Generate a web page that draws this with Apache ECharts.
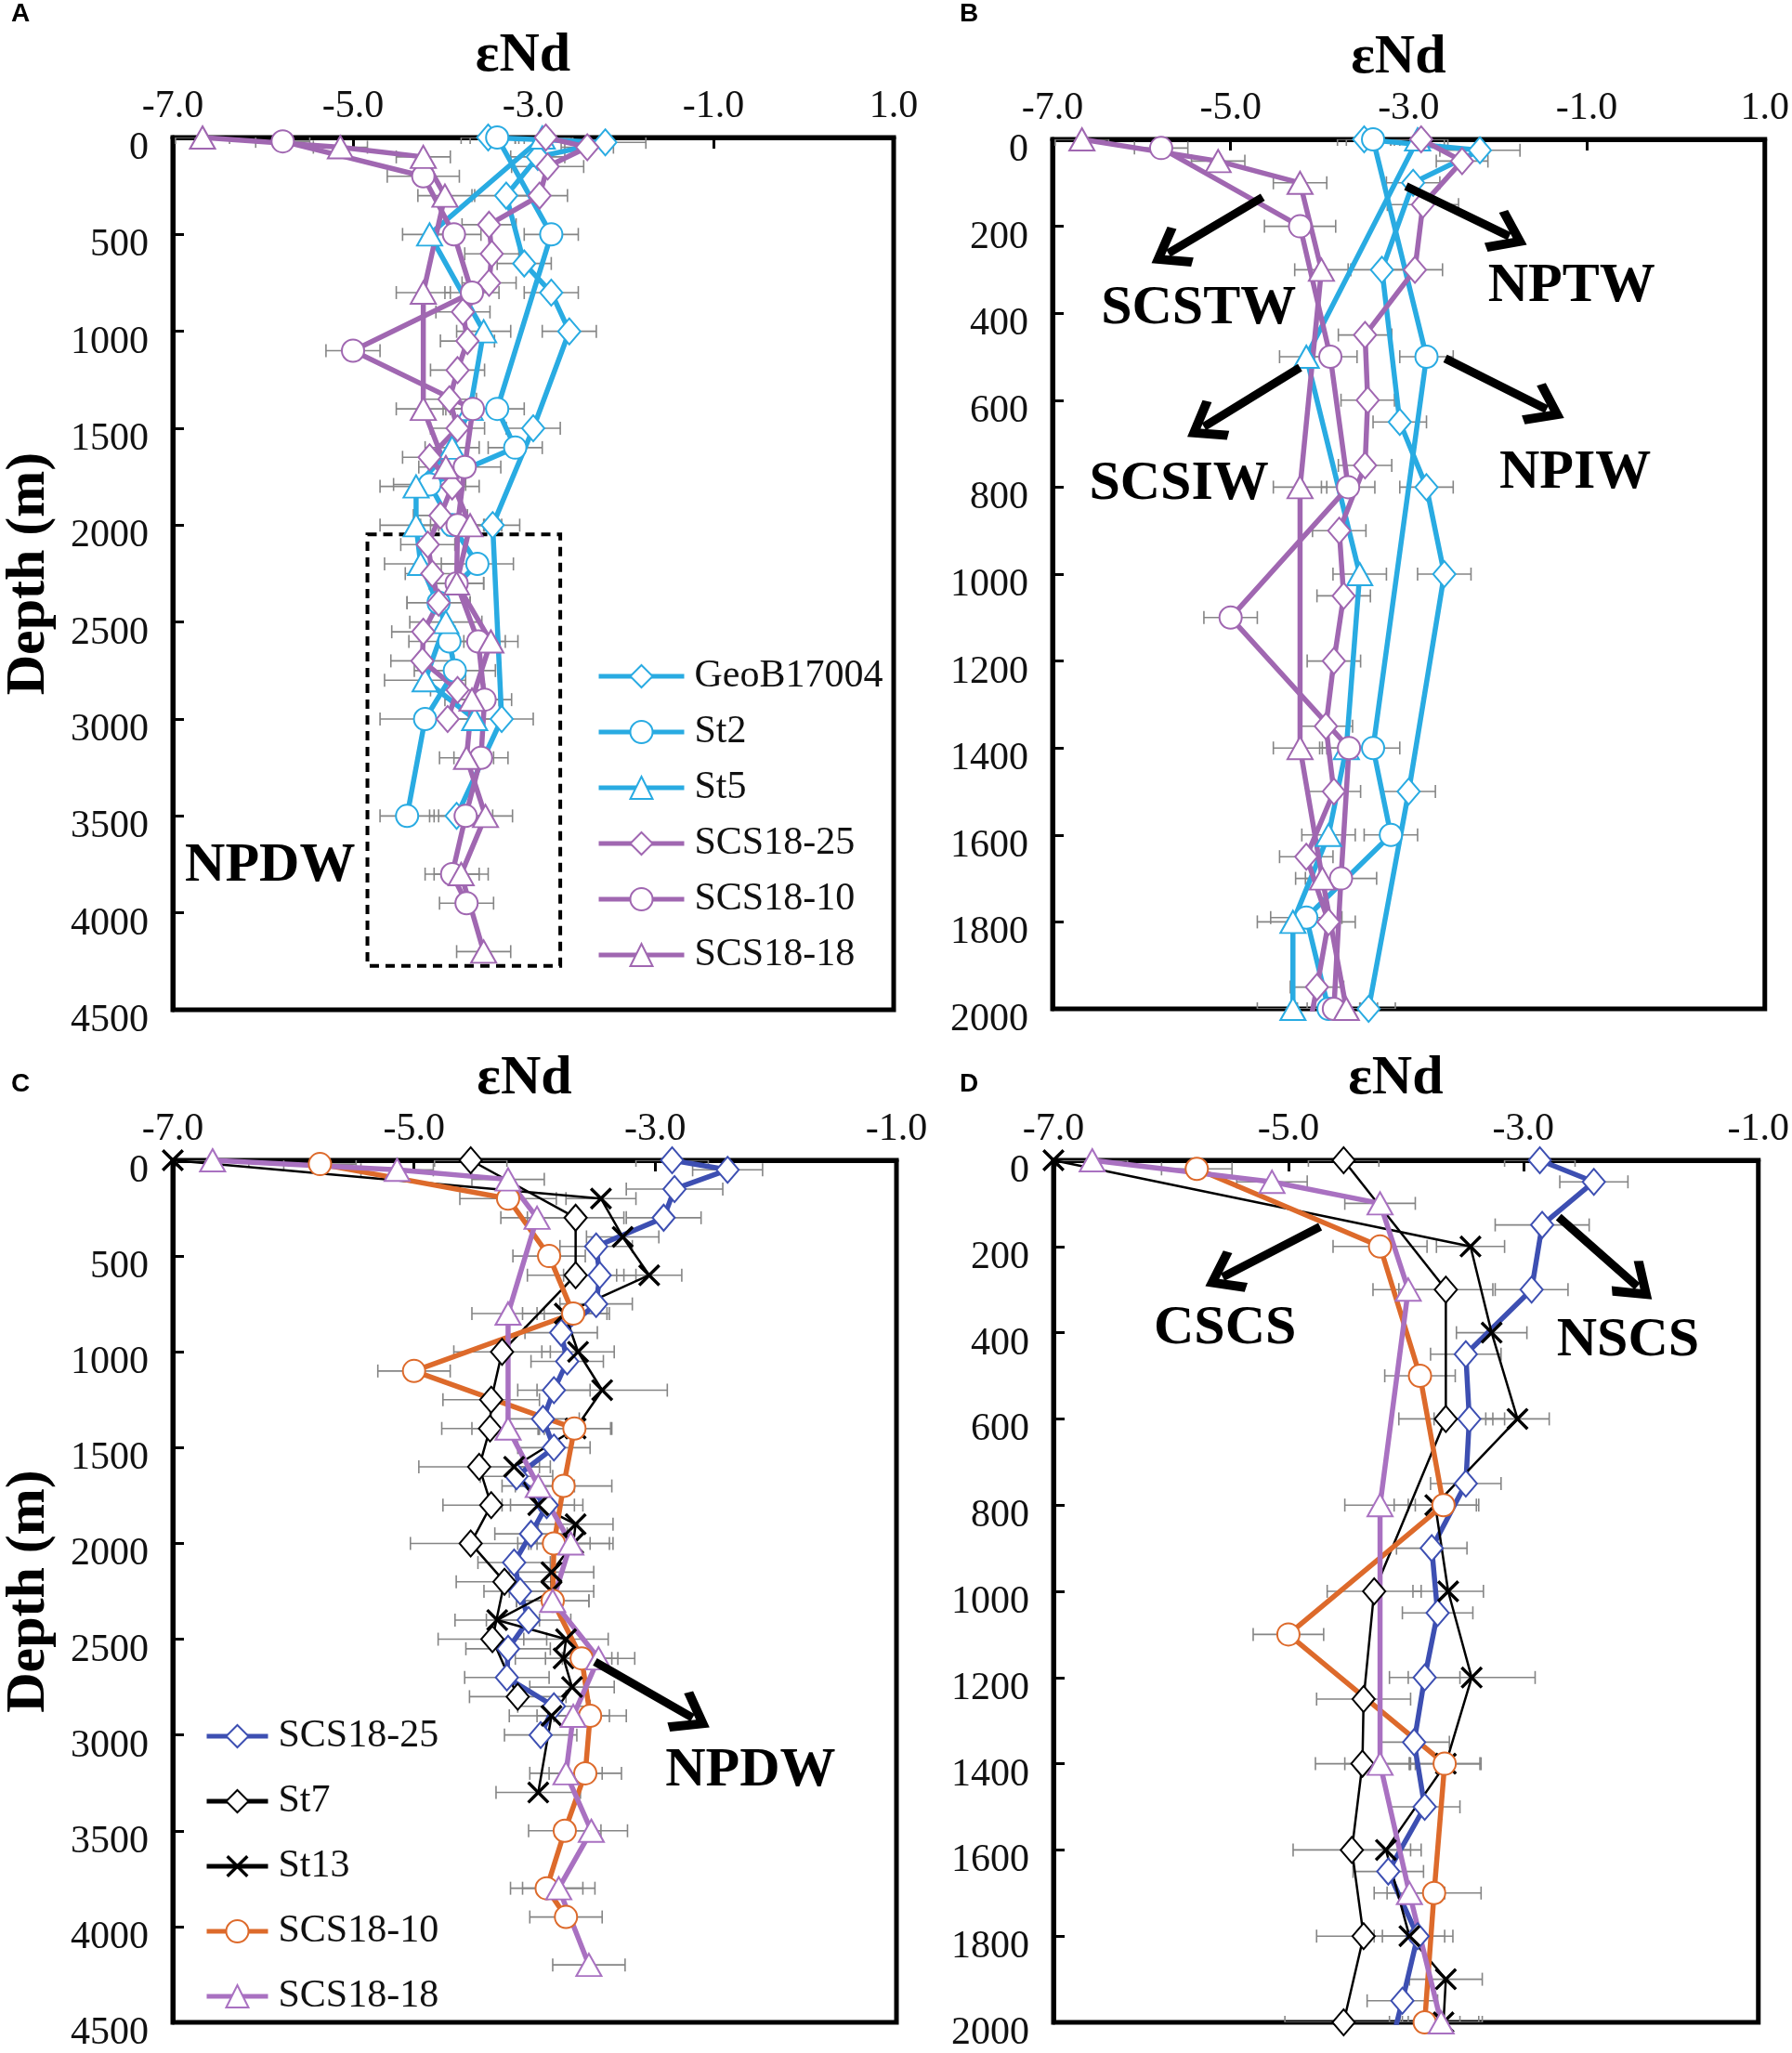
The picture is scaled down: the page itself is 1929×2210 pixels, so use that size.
<!DOCTYPE html>
<html>
<head>
<meta charset="utf-8">
<title>eNd depth profiles</title>
<script src="https://cdn.jsdelivr.net/npm/echarts@6/dist/echarts.min.js"></script>
<style>
html, body { margin: 0; padding: 0; background: #fff; }
.pane { position: absolute; left: 0; top: 0; width: 1929px; height: 2210px; }
</style>
</head>
<body>
<div id="pA" class="pane"></div>
<div id="pB" class="pane"></div>
<div id="pC" class="pane"></div>
<div id="pD" class="pane"></div>
<script>
// ---- data (depth in m, eNd, 2sd) ----
var geoDepth = [0, 25, 100, 300, 650, 800, 1000, 1500, 2000, 3000, 3500];
var geoEnd   = [-3.5, -2.2, -2.95, -3.3, -3.1, -2.8, -2.6, -3.0, -3.45, -3.35, -3.85];
var geoErr   = [0.3, 0.45, 0.3, 0.35, 0.3, 0.3, 0.3, 0.3, 0.3, 0.35, 0.3];

var st2Depth = [0, 500, 1400, 1600, 1790, 2000, 2200, 2400, 2600, 2750, 3000, 3500];
var st2End   = [-3.4, -2.8, -3.4, -3.2, -4.15, -3.9, -3.62, -4.05, -3.93, -3.87, -4.2, -4.4];
var st2Err   = [0.3, 0.3, 0.3, 0.3, 0.4, 0.35, 0.4, 0.35, 0.45, 0.45, 0.5, 0.3];

var st5Depth = [0, 500, 1000, 1400, 1600, 1800, 2000, 2200, 2500, 2800, 3000];
var st5End   = [-2.9, -4.15, -3.55, -3.7, -3.9, -4.3, -4.3, -4.25, -3.97, -4.2, -3.65];
var st5Err   = [0.3, 0.3, 0.3, 0.3, 0.3, 0.4, 0.4, 0.4, 0.4, 0.45, 0.35];

var s25Depth = [0, 50, 150, 300, 450, 600, 750, 900, 1050, 1200, 1350, 1500, 1650, 1800, 1950, 2100, 2250, 2400, 2550, 2700, 2850, 3000];
var s25End   = [-2.86, -2.4, -2.84, -2.93, -3.49, -3.46, -3.49, -3.78, -3.73, -3.84, -3.93, -3.84, -4.15, -3.9, -4.03, -4.17, -4.12, -4.05, -4.22, -4.23, -3.84, -3.95];
var s25Err   = [0.3, 0.29, 0.4, 0.31, 0.3, 0.3, 0.3, 0.3, 0.3, 0.3, 0.3, 0.3, 0.3, 0.3, 0.3, 0.3, 0.3, 0.35, 0.35, 0.35, 0.3, 0.3];

var s10Depth = [20, 200, 500, 800, 1100, 1400, 1700, 2000, 2300, 2600, 2900, 3200, 3500, 3800, 3950];
var s10End   = [-5.78, -4.22, -3.88, -3.68, -5.0, -3.67, -3.76, -3.84, -3.85, -3.61, -3.54, -3.58, -3.75, -3.9, -3.74];
var s10Err   = [0.3, 0.4, 0.3, 0.3, 0.3, 0.3, 0.4, 0.3, 0.3, 0.3, 0.3, 0.3, 0.3, 0.3, 0.3];

var s18Depth = [0, 50, 100, 300, 800, 1400, 1700, 2000, 2300, 2600, 2900, 3200, 3500, 3800, 4200];
var s18End   = [-6.67, -5.14, -4.22, -3.98, -4.22, -4.22, -3.97, -3.7, -3.85, -3.47, -3.68, -3.74, -3.53, -3.8, -3.55];
var s18Err   = [0.3, 0.3, 0.3, 0.3, 0.3, 0.3, 0.3, 0.35, 0.3, 0.3, 0.3, 0.3, 0.3, 0.3, 0.3];

var st7Depth = [0, 300, 600, 1000, 1250, 1400, 1600, 1800, 2000, 2200, 2500, 2800];
var st7End   = [-4.53, -3.66, -3.66, -4.27, -4.36, -4.37, -4.46, -4.36, -4.53, -4.25, -4.35, -4.14];
var st7Err   = [0.3, 0.4, 0.4, 0.4, 0.4, 0.4, 0.5, 0.4, 0.5, 0.4, 0.45, 0.4];

var st13Depth = [0, 200, 400, 600, 800, 1000, 1200, 1400, 1600, 1800, 1900, 2000, 2150, 2250, 2400, 2500, 2600, 2750, 2900, 3300];
var st13End   = [-7.0, -3.45, -3.27, -3.05, -3.75, -3.64, -3.44, -3.66, -4.17, -3.97, -3.66, -3.68, -3.86, -3.86, -4.31, -3.74, -3.76, -3.69, -3.86, -3.97];
var st13Err   = [0.3, 0.29, 0.3, 0.27, 0.35, 0.3, 0.54, 0.3, 0.3, 0.3, 0.31, 0.3, 0.35, 0.35, 0.35, 0.35, 0.4, 0.35, 0.35, 0.35];

var xTicksAB = [-7, -5, -3, -1, 1];
var xTicksCD = [-7, -5, -3, -1];

// ---- styling ----
var SERIF = '"Liberation Serif", "Times New Roman", serif';
var CYAN = '#29ABE2', PURPLE = '#A067B1', BLUE = '#3D4FB2', ORANGE = '#DD6A2B', LILAC = '#A971C1';
var XMARK = 'path://M0,2 L2,0 L10,8 L18,0 L20,2 L12,10 L20,18 L18,20 L10,12 L2,20 L0,18 L8,10 Z';
var CHEVRON = 'path://M50,0 L100,62 L86,75 L50,30 L14,75 L0,62 Z';

var SYM = {
    diamond: ['emptyDiamond', [24, 28]],
    circle: ['emptyCircle', 24],
    triangle: ['emptyTriangle', [27, 24]],
    cross: [XMARK, 24]
};

function pairs(end, depth) {
    var out = [];
    for (var i = 0; i < depth.length; i++) out.push([end[i], depth[i]]);
    return out;
}

function lineSeries(name, end, depth, color, shape, width) {
    return {
        name: name,
        type: 'line',
        data: pairs(end, depth),
        symbol: SYM[shape][0],
        symbolSize: SYM[shape][1],
        showSymbol: true,
        clip: true,
        z: 3,
        lineStyle: { color: color, width: width },
        itemStyle: { color: color, borderColor: color, borderWidth: shape == 'cross' ? 0 : 3.5 }
    };
}

function renderErr(params, api) {
    var x = api.value(0), y = api.value(1), e = api.value(2);
    var a = api.coord([x - e, y]);
    var b = api.coord([x + e, y]);
    var h = 7;
    var st = { stroke: '#858585', lineWidth: 1.6 };
    return {
        type: 'group',
        children: [
            { type: 'line', shape: { x1: a[0], y1: a[1], x2: b[0], y2: b[1] }, style: st },
            { type: 'line', shape: { x1: a[0], y1: a[1] - h, x2: a[0], y2: a[1] + h }, style: st },
            { type: 'line', shape: { x1: b[0], y1: b[1] - h, x2: b[0], y2: b[1] + h }, style: st }
        ]
    };
}

function errSeries(end, depth, err, yMax) {
    var d = [];
    for (var i = 0; i < depth.length; i++) {
        if (depth[i] <= yMax) d.push([end[i], depth[i], err[i]]);
    }
    return { type: 'custom', renderItem: renderErr, data: d, encode: { x: 0, y: 1 }, z: 1, silent: true, clip: true };
}

function textMark(list) {
    return {
        silent: true,
        symbol: 'circle',
        symbolSize: 1,
        itemStyle: { color: 'rgba(0,0,0,0)' },
        label: {
            show: true, position: 'inside', color: '#000',
            fontFamily: SERIF, fontSize: 60, fontWeight: 'bold',
            formatter: function (p) { return p.name; }
        },
        data: list.map(function (t) { return { name: t[0], coord: [t[1], t[2]] }; })
    };
}

function arrowMark(list) {
    return {
        silent: true,
        symbol: ['none', CHEVRON],
        symbolSize: [50, 42],
        lineStyle: { color: '#000', width: 9, type: 'solid' },
        label: { show: false },
        data: list.map(function (a) { return [{ coord: [a[0], a[1]] }, { coord: [a[2], a[3]] }]; })
    };
}

function buildOption(p) {
    var series = [];
    p.sets.forEach(function (s) {
        series.push(errSeries(s.end, s.depth, s.err, p.yMax));
    });
    p.sets.forEach(function (s) {
        series.push(lineSeries(s.name, s.end, s.depth, s.color, s.shape, s.width));
    });
    var first = series[p.sets.length];
    if (p.texts) first.markPoint = textMark(p.texts);
    if (p.arrows) first.markLine = arrowMark(p.arrows);
    if (p.box) {
        first.markArea = {
            silent: true,
            itemStyle: { color: 'rgba(0,0,0,0)', borderColor: '#000', borderWidth: 4, borderType: [10, 7] },
            data: [[{ coord: [p.box[0], p.box[1]] }, { coord: [p.box[2], p.box[3]] }]]
        };
    }
    var opt = {
        animation: false,
        grid: { left: p.grid[0], top: p.grid[1], width: p.grid[2], height: p.grid[3], show: true, borderColor: '#000', borderWidth: 5 },
        xAxis: {
            type: 'value', position: 'top', min: -7, max: p.xMax, interval: 2,
            name: 'εNd', nameLocation: 'middle', nameGap: 58,
            nameTextStyle: { fontFamily: SERIF, fontSize: 60, fontWeight: 'bold', color: '#000', padding: [0, 22, 0, 0] },
            axisLine: { show: true, onZero: false, lineStyle: { color: '#000', width: 5 } },
            axisTick: { show: true, inside: true, length: 12, lineStyle: { color: '#000', width: 3 }, customValues: p.xTicks },
            axisLabel: {
                fontFamily: SERIF, fontSize: 42, color: '#111', margin: 12, customValues: p.xTicks,
                formatter: function (v) { return v.toFixed(1); }
            },
            splitLine: { show: false }
        },
        yAxis: {
            type: 'value', inverse: true, min: 0, max: p.yMax, interval: p.yStep,
            name: p.depthName ? 'Depth (m)' : '', nameLocation: 'middle', nameGap: 125,
            nameTextStyle: { fontFamily: SERIF, fontSize: 60, fontWeight: 'bold', color: '#000' },
            axisLine: { show: true, onZero: false, lineStyle: { color: '#000', width: 5 } },
            axisTick: { show: true, inside: true, length: 12, lineStyle: { color: '#000', width: 3 } },
            axisLabel: {
                fontFamily: SERIF, fontSize: 42, color: '#111', margin: 26,
                verticalAlign: 'top', lineHeight: 24,
                formatter: function (v) { return String(v); }
            },
            splitLine: { show: false }
        },
        graphic: [{
            type: 'text', left: p.letter[1], top: p.letter[2],
            style: { text: p.letter[0], font: 'bold 28px "Liberation Sans", Arial, sans-serif', fill: '#000' }
        }],
        series: series
    };
    if (p.legend) {
        opt.legend = {
            orient: 'vertical', left: p.legend.left, top: p.legend.top,
            itemWidth: p.legend.w, itemHeight: 30, itemGap: p.legend.gap,
            lineStyle: { width: 5 },
            textStyle: { fontFamily: SERIF, fontSize: 42, color: '#111', padding: [0, 0, 0, 6] },
            data: p.sets.map(function (s) { return s.name; })
        };
    }
    return opt;
}

var setsAB = [
    { name: 'GeoB17004', end: geoEnd, depth: geoDepth, err: geoErr, color: CYAN, shape: 'diamond', width: 5.5 },
    { name: 'St2', end: st2End, depth: st2Depth, err: st2Err, color: CYAN, shape: 'circle', width: 5.5 },
    { name: 'St5', end: st5End, depth: st5Depth, err: st5Err, color: CYAN, shape: 'triangle', width: 5.5 },
    { name: 'SCS18-25', end: s25End, depth: s25Depth, err: s25Err, color: PURPLE, shape: 'diamond', width: 5.5 },
    { name: 'SCS18-10', end: s10End, depth: s10Depth, err: s10Err, color: PURPLE, shape: 'circle', width: 5.5 },
    { name: 'SCS18-18', end: s18End, depth: s18Depth, err: s18Err, color: PURPLE, shape: 'triangle', width: 5.5 }
];

var setsCD = [
    { name: 'SCS18-25', end: s25End, depth: s25Depth, err: s25Err, color: BLUE, shape: 'diamond', width: 5.5 },
    { name: 'St7', end: st7End, depth: st7Depth, err: st7Err, color: '#000', shape: 'diamond', width: 2.5 },
    { name: 'St13', end: st13End, depth: st13Depth, err: st13Err, color: '#000', shape: 'cross', width: 2.5 },
    { name: 'SCS18-10', end: s10End, depth: s10Depth, err: s10Err, color: ORANGE, shape: 'circle', width: 5.5 },
    { name: 'SCS18-18', end: s18End, depth: s18Depth, err: s18Err, color: LILAC, shape: 'triangle', width: 5.5 }
];

var panels = [
    {
        id: 'pA', grid: [183, 148, 779, 939], xMax: 1, xTicks: xTicksAB, yMax: 4500, yStep: 500,
        depthName: true, sets: setsAB, letter: ['A', 12, 1],
        legend: { left: 637, top: 702, w: 92, gap: 18 },
        box: [-4.84, 2048, -2.70, 4273],
        texts: [['NPDW', -5.92, 3758]]
    },
    {
        id: 'pB', grid: [1133, 150, 780, 936], xMax: 1, xTicks: xTicksAB, yMax: 2000, yStep: 200,
        depthName: false, sets: setsAB, letter: ['B', 1033, 1],
        texts: [['SCSTW', -5.36, 390], ['NPTW', -1.17, 338], ['SCSIW', -5.58, 793], ['NPIW', -1.13, 768]],
        arrows: [[-4.64, 133, -5.70, 262], [-3.03, 108, -1.87, 223], [-4.22, 525, -5.30, 661], [-2.59, 504, -1.45, 621]]
    },
    {
        id: 'pC', grid: [186, 1249, 779, 945], xMax: -1, xTicks: xTicksCD, yMax: 4500, yStep: 500,
        depthName: true, sets: setsCD, letter: ['C', 12, 1153],
        legend: { left: 215, top: 1843, w: 66, gap: 28 },
        texts: [['NPDW', -2.21, 3188]],
        arrows: [[-3.5, 2618, -2.69, 2910]]
    },
    {
        id: 'pD', grid: [1134, 1249, 779, 943], xMax: -1, xTicks: xTicksCD, yMax: 2000, yStep: 200,
        depthName: false, sets: setsCD, letter: ['D', 1033, 1153],
        texts: [['CSCS', -5.54, 392], ['NSCS', -2.11, 419]],
        arrows: [[-4.73, 154, -5.56, 271], [-2.70, 132, -2.03, 293]]
    }
];

panels.forEach(function (p) {
    var chart = echarts.init(document.getElementById(p.id), null, { renderer: 'canvas' });
    chart.setOption(buildOption(p));
});
</script>
</body>
</html>
